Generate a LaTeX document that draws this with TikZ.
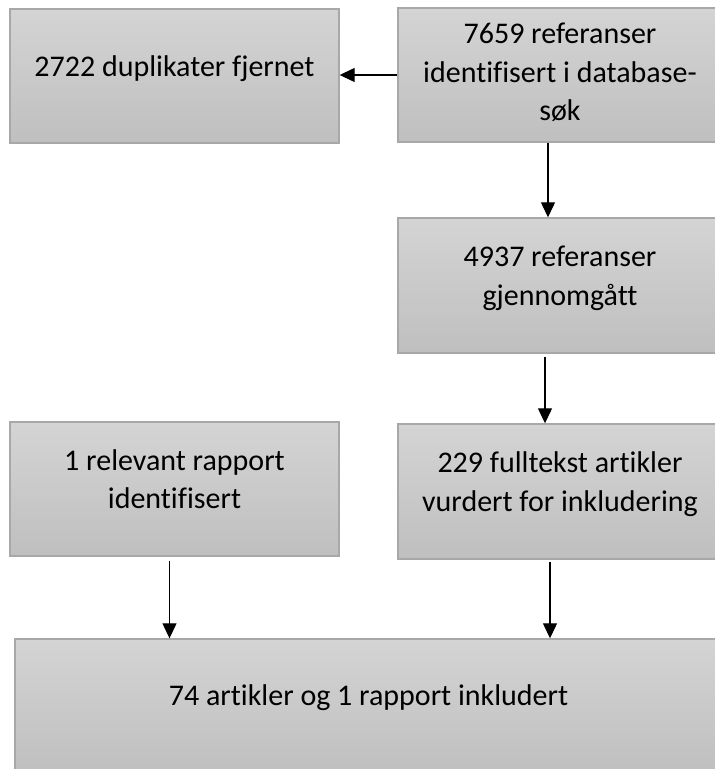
\documentclass[tikz,border=0pt]{standalone}
\usepackage{fontspec}
\setmainfont{Carlito}[Ligatures=NoCommon]
\usetikzlibrary{arrows.meta, positioning}
\definecolor{boxtop}{RGB}{212,212,212}
\definecolor{boxbot}{RGB}{191,191,191}
\definecolor{boxline}{RGB}{168,168,168}

\begin{document}
\begin{tikzpicture}[x=1pt, y=-1pt, font=\fontsize{30}{38.5}\selectfont, >=Triangle]
    \tikzset{
        gbox/.style={draw=boxline, line width=1.4pt, top color=boxtop, bottom color=boxbot,
            align=center, inner sep=0pt, text depth=20pt},
        arr/.style={line width=1.2pt, -{Triangle[length=15pt, width=14pt]}},
    }
    \useasboundingbox (0,0) rectangle (715,769);

    \node[gbox, minimum width=329pt, minimum height=134pt] (dup) at (174.5,76) {2722 duplikater fjernet};
    \node[gbox, minimum width=324pt, minimum height=134pt, text depth=6pt] (refs) at (560,75) {7659 referanser\\identifisert i database-\\søk};
    \node[gbox, minimum width=324pt, minimum height=135pt] (screen) at (560,285.5) {4937 referanser\\gjennomgått};
    \node[gbox, minimum width=329pt, minimum height=134pt] (rel) at (174.5,489) {1 relevant rapport\\identifisert};
    \node[gbox, minimum width=324pt, minimum height=135pt] (full) at (560,491.5) {229 fulltekst artikler\\vurdert for inkludering};
    \node[gbox, minimum width=707pt, minimum height=133pt] (incl) at (368.5,705.5) {74 artikler og 1 rapport inkludert};

    \draw[arr] (refs.west) -- (dup.east |- refs.west);
    \draw[arr] ([xshift=-12pt]refs.south) -- ([xshift=-12pt]screen.north);
    \draw[arr] ([xshift=-15pt, yshift=-3pt]screen.south) -- ([xshift=-15pt]full.north);
    \draw[arr] ([xshift=-5pt, yshift=-4pt]rel.south) -- ([xshift=-5pt]rel.south |- incl.north);
    \draw[arr] ([xshift=-10pt, yshift=-2pt]full.south) -- ([xshift=-10pt]full.south |- incl.north);
\end{tikzpicture}
\end{document}
